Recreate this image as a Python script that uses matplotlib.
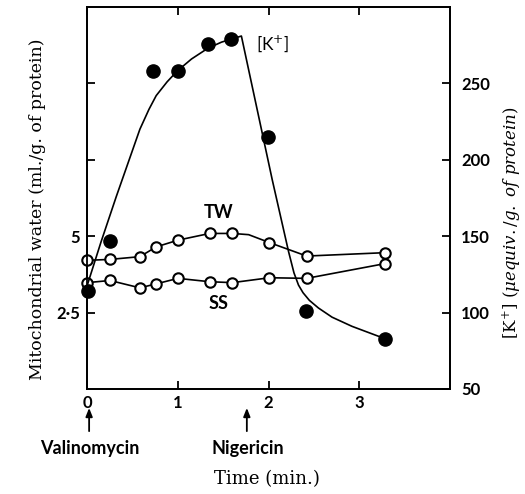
import numpy as np
import matplotlib
matplotlib.use("Agg")
import matplotlib.pyplot as plt

# time (min.) of the measurements
t_water = [0, 0.25, 0.58, 0.76, 1.0, 1.35, 1.6, 2.01, 2.42, 3.28]
# mitochondrial water (ml./g. of protein)
tw = [4.21, 4.24, 4.33, 4.65, 4.87, 5.09, 5.09, 4.79, 4.35, 4.46]
ss = [3.48, 3.55, 3.31, 3.44, 3.62, 3.51, 3.48, 3.64, 3.62, 4.10]

# [K+] (uequiv./g. of protein), filled points
t_k = [0.01, 0.25, 0.73, 1.0, 1.33, 1.59, 1.99, 2.41, 3.28]
k = [114, 147, 258, 258, 276, 279, 215, 101, 83]

# hand drawn [K+] curve
t_kcurve = [0, 0.15, 0.32, 0.45, 0.58, 0.68, 0.76, 0.88, 0.99, 1.15, 1.33,
            1.48, 1.59, 1.70, 2.04, 2.22, 2.28, 2.33, 2.38, 2.45, 2.55,
            2.70, 2.92, 3.10, 3.28]
k_curve = [118, 146, 176, 198, 220, 233, 242, 251, 258, 266, 273,
           277, 279, 281, 187, 140, 126, 118, 113, 108, 103,
           97, 91, 87, 83]

tw_extra_t = [1.78]
tw_extra = [5.05]

serif = "DejaVu Serif"
sans = "Lato"

plt.rcParams["mathtext.fontset"] = "custom"
plt.rcParams["mathtext.rm"] = "DejaVu Serif"
plt.rcParams["mathtext.it"] = "DejaVu Serif:italic"

fig = plt.figure(figsize=(5.25, 4.94), dpi=100)
ax = fig.add_axes([0.1663, 0.2126, 0.6906, 0.7732])
ax2 = ax.twinx()

# water curves on the left axis
tw_line_t = t_water[:7] + tw_extra_t + t_water[7:]
tw_line = tw[:7] + tw_extra + tw[7:]
ax.plot(tw_line_t, tw_line, color="black", lw=1.2, zorder=2)
ax.plot(t_water, tw, "o", ms=7.5, mfc="white", mec="black", mew=1.5,
        zorder=3, clip_on=False)
ax.plot(t_water, ss, "-", color="black", lw=1.2, zorder=2)
ax.plot(t_water, ss, "o", ms=7.5, mfc="white", mec="black", mew=1.5,
        zorder=3, clip_on=False)

# potassium on the right axis
ax2.plot(t_kcurve, k_curve, color="black", lw=1.2)
ax2.plot(t_k, k, "o", ms=9.5, color="black", clip_on=False)

ax.set_xlim(0, 4)
ax.set_ylim(0, 12.5)
ax2.set_ylim(50, 300)

ax.set_xticks([0, 1, 2, 3])
ax.set_xticklabels(["0", "1", "2", "3"])
ax.set_yticks([2.5, 5, 7.5, 10])
ax.set_yticklabels(["2·5", "5", "", ""])
ax2.set_yticks([50, 100, 150, 200, 250])

for a in (ax, ax2):
    for s in a.spines.values():
        s.set_linewidth(1.3)
ax.tick_params(axis="both", direction="in", length=6, width=1.3,
               labelsize=12, pad=4, top=True)
ax.tick_params(axis="y", pad=5)
ax2.tick_params(axis="y", direction="in", length=6, width=1.3,
                labelsize=12, pad=8)
for lab in ax.get_xticklabels() + ax.get_yticklabels() + ax2.get_yticklabels():
    lab.set_fontfamily(sans)
    lab.set_fontweight("bold")

ax.text(1.45, 5.78, "TW", fontsize=13, family=sans, fontweight="bold",
        ha="center", va="center")
ax.text(1.45, 2.8, "SS", fontsize=13, family=sans, fontweight="bold",
        ha="center", va="center")
ax2.text(1.86, 276, "[K$^{+}$]", fontsize=12.5, family=sans, ha="left", va="center")

# arrows marking additions
arrow = dict(arrowstyle="-|>,head_length=0.5,head_width=0.2", color="black",
             lw=1.3, shrinkA=0, shrinkB=0)
ax.annotate("", xy=(0.02, -0.62), xytext=(0.02, -1.38), annotation_clip=False,
            arrowprops=arrow)
ax.text(0.03, -1.95, "Valinomycin", fontsize=13, family=sans, fontweight="bold",
        ha="center", va="center", clip_on=False)
ax.annotate("", xy=(1.76, -0.62), xytext=(1.76, -1.38), annotation_clip=False,
            arrowprops=arrow)
ax.text(1.77, -1.95, "Nigericin", fontsize=13, family=sans, fontweight="bold",
        ha="center", va="center", clip_on=False)

ax.set_xlabel("Time (min.)", fontsize=13, family=serif)
ax.xaxis.set_label_coords(0.495, -0.2356)
ax.xaxis.label.set_verticalalignment("center")
ax.set_ylabel("Mitochondrial water (ml./g. of protein)", fontsize=12.5, family=serif)
ax.yaxis.set_label_coords(-0.136, 0.471)
ax.yaxis.label.set_verticalalignment("center")
ax2.set_ylabel(r"[K$^{+}$] ($\mathit{\mu equiv./g.\ of\ protein}$)", fontsize=12,
               family=serif, rotation=90)
ax2.yaxis.set_label_coords(1.170, 0.435)
ax2.yaxis.label.set_verticalalignment("center")

fig.savefig("out.png", dpi=100)
